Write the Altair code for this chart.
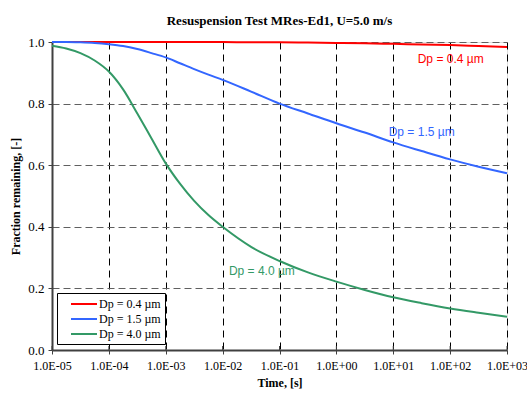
import altair as alt
import pandas as pd

# Sample times (s), as log10 exponents
exponents = [-5, -4.75, -4.5, -4.25, -4, -3.75, -3.5, -3.25, -3, -2.75, -2.5, -2.25,
             -2, -1.5, -1, -0.5, 0, 0.5, 1, 1.5, 2, 2.5, 3]

# Fraction remaining for each particle diameter
frac_04 = [1.0, 1.0, 1.0, 1.0, 1.0, 1.0, 1.0, 1.0, 1.0, 1.0, 1.0, 1.0,
           1.0, 0.999, 0.999, 0.998, 0.997, 0.996, 0.994, 0.992, 0.990, 0.987, 0.984]
frac_15 = [1.0, 1.0, 0.999, 0.997, 0.993, 0.987, 0.977, 0.964, 0.950, 0.931, 0.912, 0.894,
           0.877, 0.839, 0.800, 0.768, 0.736, 0.706, 0.674, 0.646, 0.619, 0.595, 0.574]
frac_40 = [0.988, 0.979, 0.964, 0.940, 0.904, 0.846, 0.768, 0.687, 0.606, 0.540, 0.484, 0.438,
           0.400, 0.335, 0.289, 0.252, 0.222, 0.195, 0.171, 0.152, 0.135, 0.121, 0.108]

series_names = ["Dp = 0.4 µm", "Dp = 1.5 µm", "Dp = 4.0 µm"]
series_colors = ["#FF0000", "#3366FF", "#339966"]

x_ticks = [1e-5, 1e-4, 1e-3, 1e-2, 1e-1, 1e0, 1e1, 1e2, 1e3]
y_ticks = [0.0, 0.2, 0.4, 0.6, 0.8, 1.0]

# In-plot curve annotations (time, fraction)
label_times = [10 ** 1.43, 10 ** 0.92, 10 ** -1.89]
label_values = [0.944, 0.708, 0.257]

rows = []
for name, vals in zip(series_names, [frac_04, frac_15, frac_40]):
    for e, v in zip(exponents, vals):
        rows.append({"t": 10 ** e, "f": v, "series": name})
df = pd.DataFrame(rows)

labels_df = pd.DataFrame({"t": label_times, "f": label_values, "series": series_names})
ticks_df = pd.DataFrame({"t": x_ticks})

W, H = 455, 308

x_scale = alt.Scale(type="log", domain=[1e-5, 1e3], nice=False)
y_scale = alt.Scale(domain=[0, 1], nice=False)
color_scale = alt.Scale(domain=series_names, range=series_colors)

exp_expr = "round(log(datum.value)/LN10)"
x_label_expr = (
    f"'1.0E' + ({exp_expr} < 0 ? '-' : '+') + (abs({exp_expr}) < 10 ? '0' : '') + abs({exp_expr})"
)

x_axis = alt.Axis(
    values=x_ticks, labelExpr=x_label_expr, title="Time, [s]",
    labelOverlap=False, labelBound=False, labelFlush=False,
    grid=True, gridColor="#000000", gridDash=[7, 5], gridWidth=1,
    domainColor="#404040", domainWidth=2, tickColor="#404040", tickSize=4,
    labelFont="Liberation Serif", labelFontSize=12, labelColor="#000000", labelPadding=6,
    titleFont="Liberation Serif", titleFontSize=12, titleFontWeight="bold",
    titleColor="#000000", titlePadding=6,
)
y_axis = alt.Axis(
    values=y_ticks, format=".1f", title="Fraction remaining, [-]",
    labelOverlap=False, labelBound=False, labelFlush=False,
    grid=True, gridColor="#606060", gridDash=[7, 4], gridWidth=1,
    domainColor="#404040", domainWidth=2, tickColor="#404040", tickSize=4,
    labelFont="Liberation Serif", labelFontSize=13, labelColor="#000000", labelPadding=4,
    titleFont="Liberation Serif", titleFontSize=12, titleFontWeight="bold",
    titleColor="#000000", titlePadding=5,
)

lines = alt.Chart(df).mark_line(strokeWidth=2, interpolate="monotone").encode(
    x=alt.X("t:Q", scale=x_scale, axis=x_axis),
    y=alt.Y("f:Q", scale=y_scale, axis=y_axis),
    color=alt.Color(
        "series:N", scale=color_scale,
        legend=alt.Legend(
            title=None, orient="none", legendX=5, legendY=251,
            strokeColor="#000000", fillColor="#FFFFFF", padding=4,
            symbolType="M0.5,0L4.83,0", symbolSize=144, symbolStrokeWidth=2,
            labelFont="Liberation Serif", labelFontSize=12, labelColor="#000000",
            labelOffset=24, rowPadding=2,
        ),
    ),
    order=alt.Order("t:Q"),
)

# Inner half of the crossing x-axis ticks
inner_ticks = alt.Chart(ticks_df).mark_rule(color="#404040", strokeWidth=1).encode(
    x=alt.X("t:Q", scale=x_scale),
    y=alt.value(H - 4),
    y2=alt.value(H),
)

curve_labels = alt.Chart(labels_df).mark_text(
    align="left", baseline="middle", font="Liberation Sans", fontSize=12
).encode(
    x=alt.X("t:Q", scale=x_scale),
    y=alt.Y("f:Q", scale=y_scale),
    text="series:N",
    color=alt.Color("series:N", scale=color_scale, legend=None),
)

chart = alt.layer(inner_ticks, lines, curve_labels).properties(
    width=W,
    height=H,
    title=alt.TitleParams(
        "Resuspension Test MRes-Ed1, U=5.0 m/s",
        font="Liberation Serif", fontSize=13, fontWeight="bold", color="#000000",
        anchor="middle", offset=8,
    ),
    autosize=alt.AutoSizeParams(type="none"),
    padding={"left": 52, "top": 42, "right": 20, "bottom": 48},
).configure_view(
    stroke="#808080", strokeWidth=1
).configure(background="#FFFFFF")

chart.save("out.html", embed_options={"renderer": "svg", "actions": False})
